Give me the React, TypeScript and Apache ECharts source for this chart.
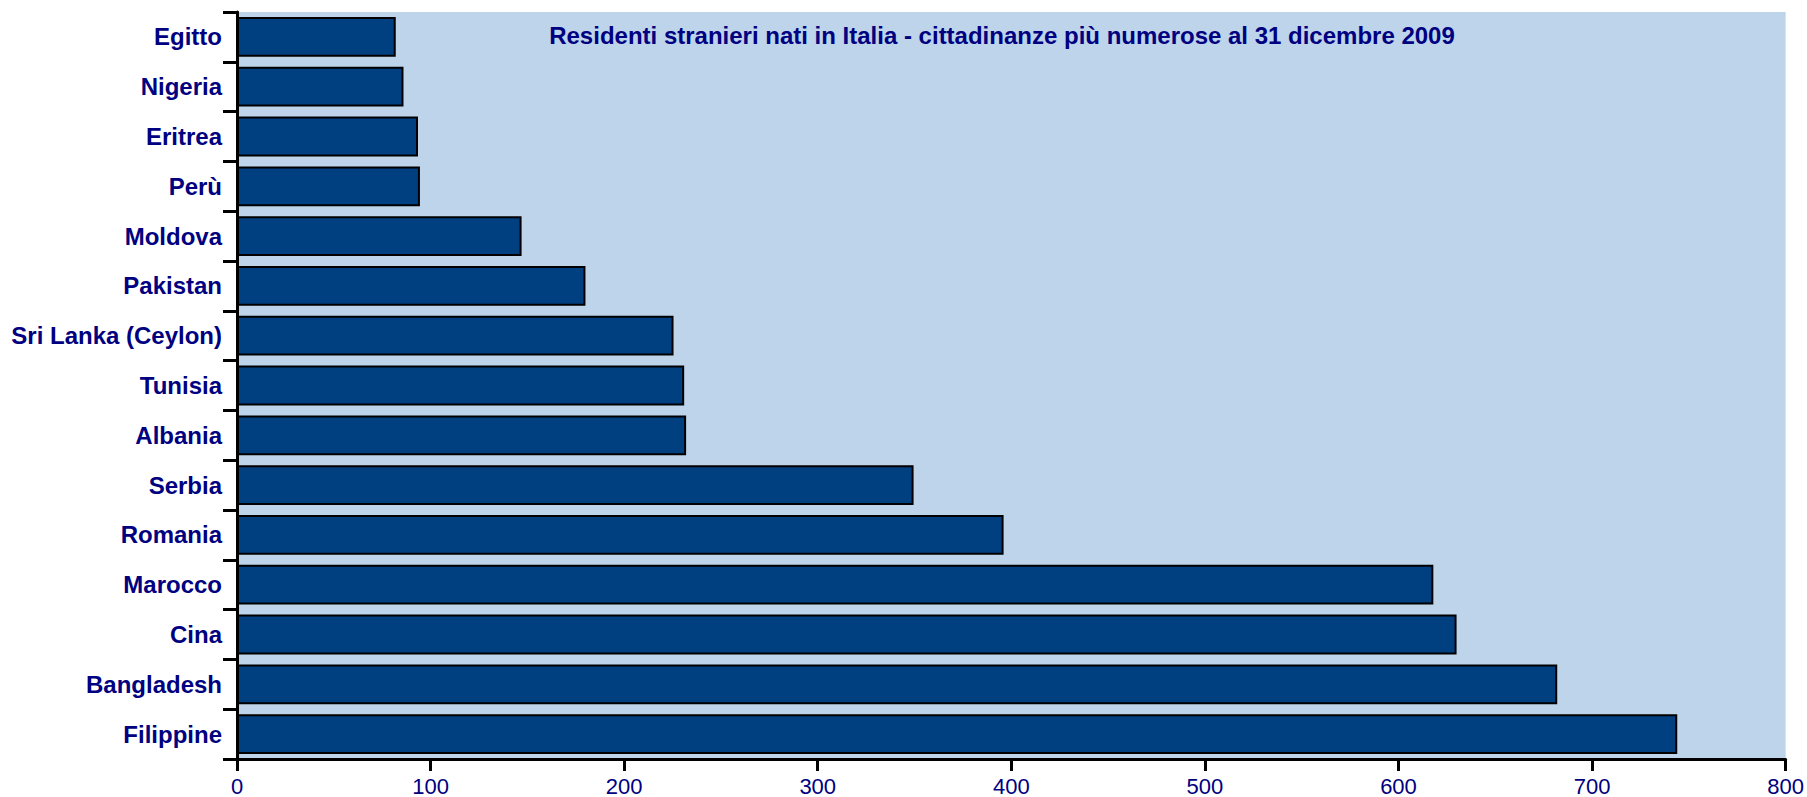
import React, { useEffect, useRef } from "react";
import * as echarts from "echarts";

const categories = [
  "Egitto", "Nigeria", "Eritrea", "Perù", "Moldova", "Pakistan", "Sri Lanka (Ceylon)",
  "Tunisia", "Albania", "Serbia", "Romania", "Marocco", "Cina", "Bangladesh", "Filippine",
];
const values = [82, 86, 93.5, 94.5, 147, 180, 225.5, 231, 232, 349.5, 396, 618, 630, 682, 744];
const xTicks = { min: 0, max: 800, interval: 100 };
const titleText = "Residenti stranieri nati in Italia - cittadinanze più numerose al 31 dicembre 2009";

const FONT = "Arial, 'Liberation Sans', sans-serif";
const NAVY = "#000080";

export default function App() {
  const ref = useRef<HTMLDivElement>(null);
  useEffect(() => {
    document.body.style.margin = "0";
    const chart = echarts.init(ref.current!, null, { renderer: "svg" });
    chart.setOption({
      animation: false,
      backgroundColor: "#ffffff",
      grid: {
        left: 237, right: 20, top: 12, bottom: 37,
        show: true, backgroundColor: "#BDD4EA", borderWidth: 0,
      },
      graphic: [
        {
          type: "text",
          x: 1002, y: 35,
          style: {
            text: titleText,
            fill: NAVY,
            font: `bold 24px ${FONT}`,
            textAlign: "center",
            textVerticalAlign: "middle",
          },
        },
      ],
      xAxis: {
        type: "value",
        min: xTicks.min, max: xTicks.max, interval: xTicks.interval,
        splitLine: { show: false },
        axisLine: { show: true, lineStyle: { color: "#000", width: 3 } },
        axisTick: { show: true, length: 12, lineStyle: { color: "#000", width: 3 } },
        axisLabel: { color: NAVY, fontSize: 22, fontFamily: FONT, margin: 16 },
      },
      yAxis: {
        type: "category",
        data: categories,
        inverse: true,
        axisLine: { show: true, lineStyle: { color: "#000", width: 3 } },
        axisTick: { show: true, length: 14, lineStyle: { color: "#000", width: 3 } },
        axisLabel: { color: NAVY, fontSize: 24, fontWeight: "bold", fontFamily: FONT, margin: 15 },
      },
      series: [
        {
          type: "bar",
          data: values,
          barCategoryGap: "20%",
          itemStyle: { color: "#003F80", borderColor: "#000", borderWidth: 2 },
        },
      ],
    });
    return () => chart.dispose();
  }, []);
  return <div ref={ref} style={{ width: 1807, height: 797 }} />;
}
